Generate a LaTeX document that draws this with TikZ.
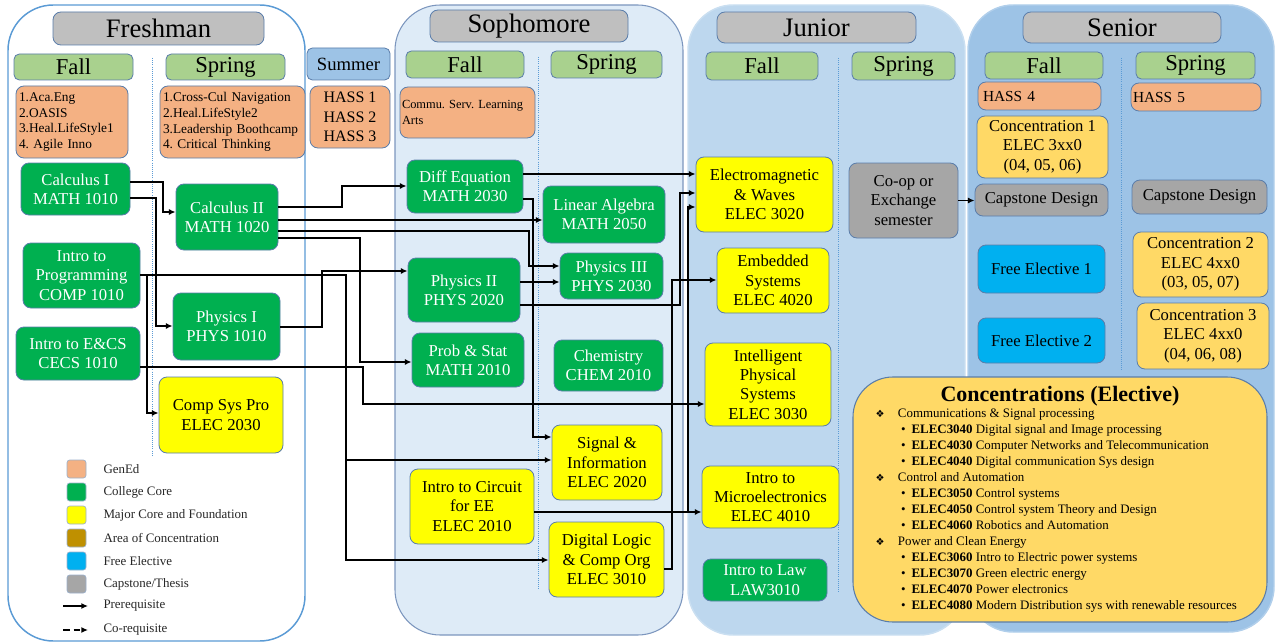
\documentclass[tikz,border=0pt]{standalone}
\usepackage{fontspec}
\setmainfont{Liberation Serif}
\newfontfamily\symfont{DejaVu Sans}
\usetikzlibrary{arrows.meta}
\frenchspacing

\definecolor{genedc}{HTML}{F4B183}
\definecolor{corec}{HTML}{00B050}
\definecolor{majorc}{HTML}{FFFF00}
\definecolor{areac}{HTML}{BF9000}
\definecolor{freec}{HTML}{00B0F0}
\definecolor{capc}{HTML}{A6A6A6}
\definecolor{concc}{HTML}{FFD966}
\definecolor{semc}{HTML}{A9D18E}
\definecolor{headc}{HTML}{BFBFBF}
\definecolor{sumc}{HTML}{9DC3E6}
\definecolor{boxln}{HTML}{5A7DAA}
\definecolor{divc}{HTML}{5B9BD5}
\definecolor{freshln}{HTML}{5B9BD5}
\definecolor{sophfill}{HTML}{DEEBF7}
\definecolor{sophln}{HTML}{7C96BE}
\definecolor{junfill}{HTML}{BDD7EE}
\definecolor{senfill}{HTML}{9DC3E6}

\newcommand\catline[1]{\par\hspace*{8pt}{\symfont\fontsize{7.5}{12}\selectfont ❖}\hspace{10pt}#1}
\newcommand\elecline[2]{\par\hspace*{27pt}•\hspace{4.5pt}\textbf{#1} #2}

\tikzset{every picture/.style={line width=0.75pt}}
\tikzset{
  wh/.style 2 args={minimum width=#1*0.75pt, minimum height=#2*0.75pt},
  course/.style={draw=boxln, rounded corners=6pt, line width=0.6pt, align=center, inner sep=1pt, font=\fontsize{12.5}{14.5}\selectfont},
  core/.style={course, fill=corec, text=white},
  major/.style={course, fill=majorc},
  gened/.style={course, fill=genedc},
  capbox/.style={course, fill=capc},
  concbox/.style={course, fill=concc},
  freebox/.style={course, fill=freec},
  semhead/.style={course, fill=semc, rounded corners=4pt, font=\fontsize{17}{18}\selectfont},
  yearhead/.style={course, fill=headc, rounded corners=6pt, font=\fontsize{20}{22}\selectfont},
  panel/.style={rounded corners=34pt, line width=1.1pt},
  divider/.style={draw=divc, densely dotted, line width=0.6pt},
  pre/.style={-{Latex[length=5pt,width=4.5pt]}, line width=1.3pt},
  legsq/.style={draw=boxln!60, rounded corners=2pt, line width=0.5pt, wh={19}{18}},
  legtxt/.style={anchor=west, inner sep=0pt, font=\fontsize{9.7}{11}\selectfont, text=black!85},
}

\begin{document}
\begin{tikzpicture}[x=0.75pt,y=0.75pt,yscale=-1,xscale=1]
\useasboundingbox (0,0) rectangle (1275,642);

%Shape: year panels
\draw[panel, draw=freshln, fill=white] (8,5) rectangle (305,641);
\draw[panel, draw=sophln, fill=sophfill, line width=0.8pt] (395,5) rectangle (683,635);
\draw[panel, draw=junfill!80!white, fill=junfill] (688,5) rectangle (965,635);
\draw[panel, draw=senfill!80!white, fill=senfill] (968,5) rectangle (1274,632);

%Straight Lines: semester dividers
\draw[divider] (152,58) -- (152,455);
\draw[divider] (538,57) -- (538,590);
\draw[divider] (838,58) -- (838,592);
\draw[divider] (1121,58) -- (1121,370);

% Year headers
\node[yearhead, wh={211}{33}] (freshman) at (158.5,28.5) {Freshman};
\node[yearhead, wh={198}{32}] (sophomore) at (529,26) {Sophomore};
\node[yearhead, wh={199}{31}] (junior) at (816.5,27.5) {Junior};
\node[yearhead, wh={198}{31}] (senior) at (1122,27.5) {Senior};

% Semester headers
\node[semhead, wh={119}{26}] (frfall) at (73.5,67) {Fall};
\node[semhead, wh={119}{26}] (frspring) at (225.5,67) {Spring};
\node[semhead, wh={83}{32}, fill=sumc, font=\fontsize{14}{16}\selectfont] (summer) at (348.5,64) {Summer};
\node[semhead, wh={118}{27}] (sofall) at (465,64.5) {Fall};
\node[semhead, wh={111}{27}] (sospring) at (606.5,64.5) {Spring};
\node[semhead, wh={112}{28}] (jufall) at (762,66) {Fall};
\node[semhead, wh={103}{28}] (juspring) at (903.5,66) {Spring};
\node[semhead, wh={118}{27}] (sefall) at (1044,65.5) {Fall};
\node[semhead, wh={119}{27}] (sespring) at (1195.5,65.5) {Spring};

% GenEd
\node[gened, wh={112}{72}, text width=79.5pt, inner sep=2.25pt, align=left, font=\fontsize{10}{11.8}\selectfont] (frgenI) at (72,122) {1.Aca.Eng\\2.OASIS\\3.Heal.LifeStyle1\\4. Agile Inno};
\node[gened, wh={145}{72}, text width=104.25pt, inner sep=2.25pt, align=left, font=\fontsize{10}{11.8}\selectfont] (frgenII) at (232.5,122) {1.Cross-Cul Navigation\\2.Heal.LifeStyle2\\3.Leadership Boothcamp\\4. Critical Thinking};
\node[gened, wh={80}{62}, font=\fontsize{12}{14.6}\selectfont] (hass) at (350,117) {HASS 1\\HASS 2\\HASS 3};
\node[gened, wh={135}{51}, text width=98.25pt, inner sep=1.5pt, align=left, font=\fontsize{9.3}{11.5}\selectfont] (sogen) at (467.5,112.5) {Commu. Serv. Learning\\Arts\\[-8pt]};
\node[gened, wh={123}{28}, text width=84.75pt, inner xsep=3.75pt, align=left, font=\fontsize{11.5}{13}\selectfont] (hassIV) at (1039.5,96) {HASS 4};
\node[gened, wh={130}{28}, text width=94.5pt, inner xsep=1.5pt, align=left, font=\fontsize{11.5}{13}\selectfont] (hassV) at (1196,97) {HASS 5};

% College core
\node[core, wh={109}{52}] (calcI) at (75.5,189) {Calculus I\\MATH 1010};
\node[core, wh={102}{66}] (calcII) at (227,217) {Calculus II\\MATH 1020};
\node[core, wh={117}{65}] (prog) at (81.5,275.5) {Intro to\\Programming\\COMP 1010};
\node[core, wh={107}{67}] (physI) at (226.5,326.5) {Physics I\\PHYS 1010};
\node[core, wh={124}{53}] (ecs) at (78,353.5) {Intro to E\&CS\\CECS 1010};
\node[core, wh={116}{53}] (diffeq) at (465,186.5) {Diff Equation\\MATH 2030};
\node[core, wh={122}{57}] (linalg) at (604,214.5) {Linear Algebra\\MATH 2050};
\node[core, wh={112}{64}] (physII) at (464,290) {Physics II\\PHYS 2020};
\node[core, wh={103}{46}] (physIII) at (611.5,276) {Physics III\\PHYS 2030};
\node[core, wh={112}{54}] (prob) at (468,360) {Prob \& Stat\\MATH 2010};
\node[core, wh={109}{51}] (chem) at (608.5,365.5) {Chemistry\\CHEM 2010};
\node[core, wh={124}{42}] (law) at (765,580) {Intro to Law\\LAW3010};

% Major core and foundation
\node[major, wh={124}{76}] (compsys) at (221,415) {Comp Sys Pro\\ELEC 2030};
\node[major, wh={110}{75}] (signal) at (607,462.5) {Signal \&\\Information\\ELEC 2020};
\node[major, wh={124}{75}] (circuit) at (472,506.5) {Intro to Circuit\\for EE\\ELEC 2010};
\node[major, wh={115}{75}] (digital) at (606.5,559.5) {Digital Logic\\\& Comp Org\\ELEC 3010};
\node[major, wh={137}{75}] (em) at (764.5,194.5) {Electromagnetic\\\& Waves\\ELEC 3020};
\node[major, wh={112}{65}] (embed) at (773,280.5) {Embedded\\Systems\\ELEC 4020};
\node[major, wh={126}{83}] (intel) at (768,384.5) {Intelligent\\Physical\\Systems\\ELEC 3030};
\node[major, wh={137}{62}] (micro) at (770.5,497) {Intro to\\Microelectronics\\ELEC 4010};

% Capstone, concentration, free elective
\node[capbox, wh={109}{75}] (coop) at (903.5,200.5) {Co-op or\\Exchange\\semester};
\node[capbox, wh={133}{32}] (capI) at (1041.5,200) {Capstone Design};
\node[capbox, wh={135}{34}] (capII) at (1199.5,197) {Capstone Design};
\node[concbox, wh={131}{62}] (concI) at (1042.5,147) {Concentration 1\\ELEC 3xx0\\(04, 05, 06)};
\node[concbox, wh={135}{65}] (concII) at (1200.5,264.5) {Concentration 2\\ELEC 4xx0\\(03, 05, 07)};
\node[concbox, wh={132}{66}] (concIII) at (1203,336) {Concentration 3\\ELEC 4xx0\\(04, 06, 08)};
\node[freebox, wh={127}{48}] (freeI) at (1041.5,269) {Free Elective 1};
\node[freebox, wh={127}{45}] (freeII) at (1041.5,340.5) {Free Elective 2};

% Concentrations (Elective)
\node[concbox, wh={414}{245}, rounded corners=30pt, line width=0.8pt, text width=292.5pt, inner sep=2pt, align=none, font=\fontsize{9.7}{12}\selectfont] (conclist) at (1060,499.5) {%
{\centering\fontsize{16.5}{20}\selectfont\bfseries Concentrations (Elective)\par}
\catline{Communications \& Signal processing}
\elecline{ELEC3040}{Digital signal and Image processing}
\elecline{ELEC4030}{Computer Networks and Telecommunication}
\elecline{ELEC4040}{Digital communication Sys design}
\catline{Control and Automation}
\elecline{ELEC3050}{Control systems}
\elecline{ELEC4050}{Control system Theory and Design}
\elecline{ELEC4060}{Robotics and Automation}
\catline{Power and Clean Energy}
\elecline{ELEC3060}{Intro to Electric power systems}
\elecline{ELEC3070}{Green electric energy}
\elecline{ELEC4070}{Power electronics}
\elecline{ELEC4080}{Modern Distribution sys with renewable resources}\par};

% Legend
\foreach \c/\t [count=\i] in {genedc/GenEd, corec/College Core, majorc/Major Core and Foundation, areac/Area of Concentration, freec/Free Elective, capc/{Capstone/Thesis}}{
  \node[legsq, fill=\c] (leg\i) at (76.5,{446+23*\i}) {};
  \node[legtxt] (legt\i) at (103,{446+23*\i}) {\t};
}
\coordinate (prea) at (63,606);
\coordinate (preb) at (88,606);
\draw[pre, line width=1pt] (prea) -- (preb);
\node[legtxt] (legpre) at (103,606) {Prerequisite};
\coordinate (cora) at (63,630);
\coordinate (corb) at (88,630);
\draw[pre, line width=1pt, dash pattern=on 5pt off 3pt] (cora) -- (corb);
\node[legtxt] (legco) at (103,630) {Co-requisite};

% Prerequisites
\draw[pre] (calcI.east |- 0,182) -| (163,212) -- (calcII.west |- 0,212);
\draw[pre] (calcI.east |- 0,198) -| (156,326) -- (physI.west |- 0,326);
\draw[pre] (calcII.east |- 0,207) -| (342,186) -- (diffeq.west |- 0,186);
\draw[pre] (calcII.east |- 0,220) -- (linalg.west |- 0,220);
\draw[pre] (calcII.east |- 0,231) -| (529,266) -- (physIII.west |- 0,266);
\draw[pre] (calcII.east |- 0,238) -| (360,362) -- (prob.west |- 0,362);
\draw[pre] (prog.east |- 0,275) -| (147,413) -- (compsys.west |- 0,413);
\draw[pre] (prog.east |- 0,275) -| (346,560) -- (digital.west |- 0,560);
\coordinate (progbus) at (346,460);
\draw[pre] (progbus) -- (signal.west |- progbus);
\draw[pre] (physI.east |- 0,327) -| (322,271) -- (physII.west |- 0,271);
\draw[pre] (ecs.east |- 0,367) -| (363,404) -- (intel.west |- 0,404);
\draw[pre] (diffeq.east |- 0,174) -- (em.west |- 0,174);
\draw[pre] (diffeq.east |- 0,199) -| (533,437) -- (signal.west |- 0,437);
\draw[pre] (physII.east |- 0,282) -- (physIII.west |- 0,282);
\draw[pre] (physII.east |- 0,305) -| (680,193) -- (em.west |- 0,193);
\draw[pre] (digital.east |- 0,569) -| (672,280) -- (embed.west |- 0,280);
\draw[pre] (circuit.east |- 0,512) -- (micro.west |- 0,512);
\draw[pre] (circuit.east |- 0,512) -| (688,207) -- (em.west |- 0,207);
\draw[pre] (coop.east) -- (capI.west |- coop.east);

\end{tikzpicture}
\end{document}
